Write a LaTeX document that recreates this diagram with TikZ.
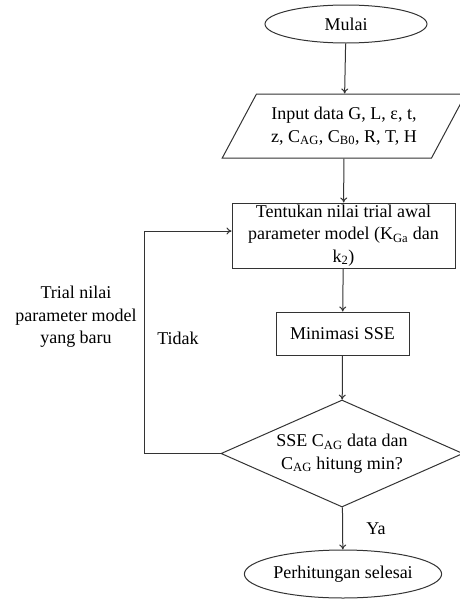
\documentclass[tikz,border=0pt]{standalone}
\usepackage{fontspec}
\setmainfont{Liberation Serif}
\usetikzlibrary{shapes.geometric,arrows.meta}
\begin{document}
\begin{tikzpicture}[x=1pt,y=-1pt,
  every node/.style={font=\fontsize{18}{22.5}\selectfont, inner sep=0pt},
  ln/.style={draw=black!80, line width=1pt},
  arr/.style={ln, -{To[length=5pt,width=7pt]}},
  term/.style={ln, ellipse},
  proc/.style={ln, rectangle, align=center},
  io/.style={ln, trapezium, trapezium left angle=53, trapezium right angle=127, trapezium stretches=true, align=center},
  dec/.style={ln, diamond},
  lbl/.style={align=center}]
\useasboundingbox (0,0) rectangle (460,600);
\node[term, minimum width=162pt, minimum height=38pt] (start) at (346,24) {Mulai};
\node[io, minimum width=244pt, minimum height=64pt] (input) at (344,126) {Input data G, L, ε, t,\\ z, C\textsubscript{AG}, C\textsubscript{B0}, R, T, H};
\node[proc, minimum width=223pt, minimum height=65pt] (init) at (343.5,235.5) {Tentukan nilai trial awal\\ parameter model (K\textsubscript{Ga} dan\\ k\textsubscript{2})};
\node[proc, minimum width=133pt, minimum height=43pt] (min) at (342.5,333.5) {Minimasi SSE};
\node[dec, minimum width=242pt, minimum height=107pt] (cek) at (342,453.5) {};
\node[lbl] (cektext) at (cek.center) {SSE C\textsubscript{AG} data dan\\ C\textsubscript{AG} hitung min?};
\node[term, minimum width=190pt, minimum height=48pt] (end) at (343,574) {Perhitungan selesai};
\node[lbl] (ya) at (376,529) {Ya};
\node[lbl] (tidak) at (178,338) {Tidak};
\node[lbl] (trial) at (76,317) {Trial nilai\\ parameter model\\ yang baru};
\coordinate (loop) at (144,231);
\draw[arr] (start) -- (input);
\draw[arr] (input) -- (init);
\draw[arr] (init) -- (min);
\draw[arr] (min) -- (cek);
\draw[arr] (cek) -- (end);
\draw[arr] (cek.west) -| (loop) -- (loop -| init.west);
\end{tikzpicture}
\end{document}
